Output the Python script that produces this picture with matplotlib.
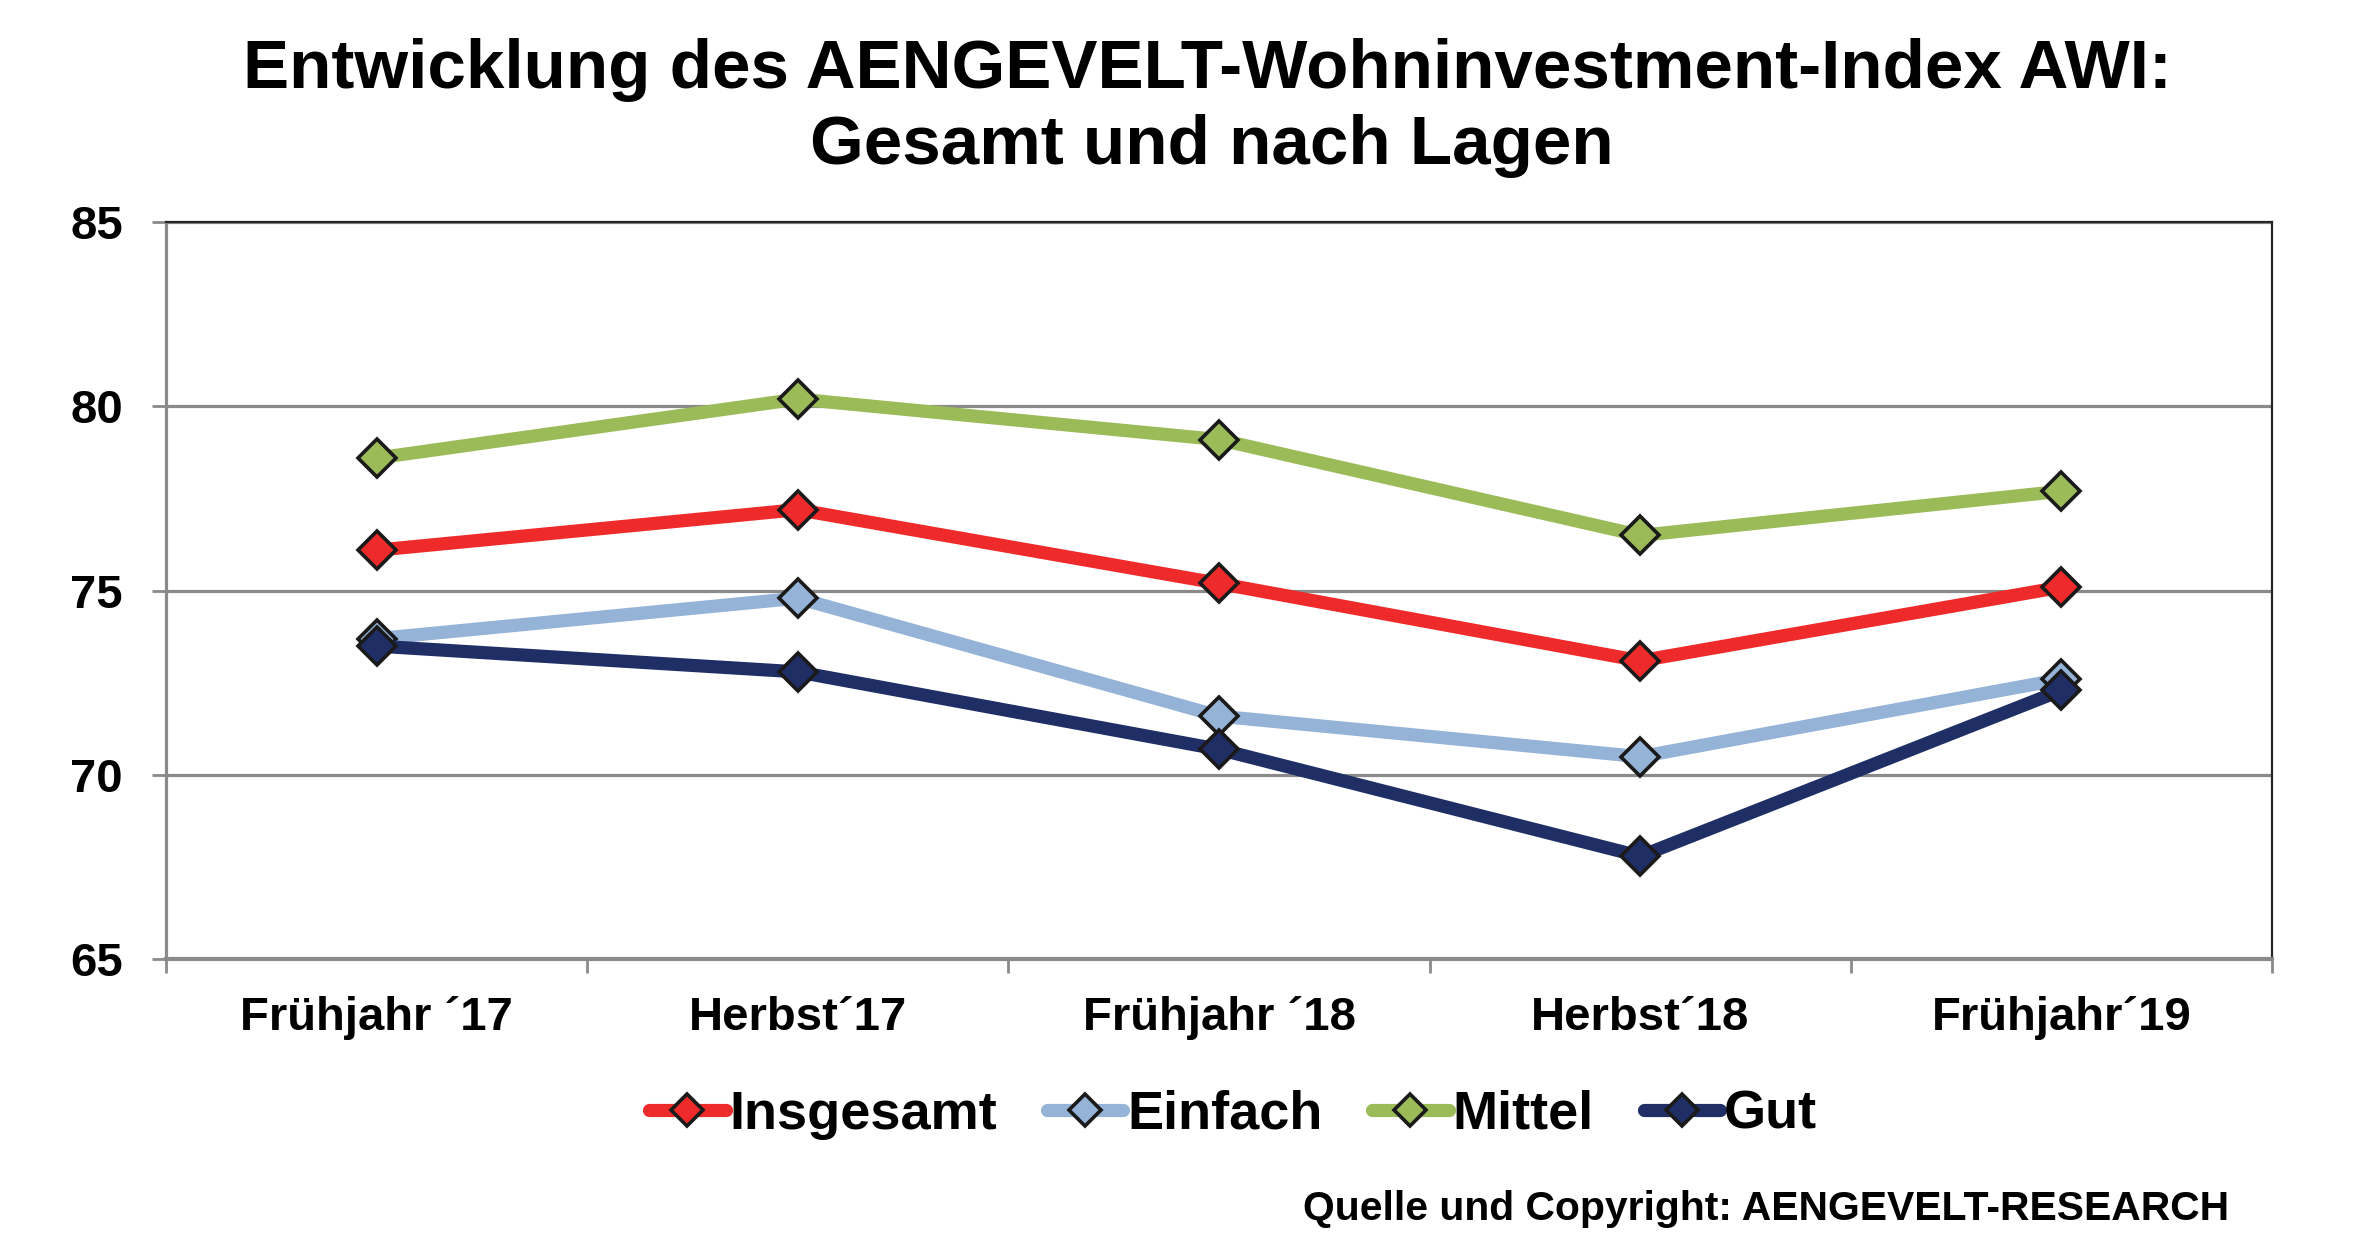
import matplotlib
matplotlib.use("Agg")
import matplotlib.pyplot as plt
from matplotlib.ticker import FixedLocator

plt.rcParams['font.family'] = ['Liberation Sans', 'DejaVu Sans']
plt.rcParams['font.weight'] = 'bold'

# Daten
perioden = ['Frühjahr ´17', 'Herbst´17', 'Frühjahr ´18', 'Herbst´18', 'Frühjahr´19']
insgesamt = [76.1, 77.2, 75.2, 73.1, 75.1]
einfach = [73.7, 74.8, 71.6, 70.5, 72.6]
mittel = [78.6, 80.2, 79.1, 76.5, 77.7]
gut = [73.5, 72.8, 70.7, 67.8, 72.3]
y_ticks = [65, 70, 75, 80, 85]

reihen = [
    ('Insgesamt', insgesamt, '#ee2a2a'),
    ('Einfach', einfach, '#95b3d7'),
    ('Mittel', mittel, '#9bbb59'),
    ('Gut', gut, '#1f2f66'),
]

fig = plt.figure(figsize=(23.62, 12.44), dpi=100)
ax = fig.add_axes([0.0703, 0.2287, 0.8916, 0.5928])

x = list(range(len(perioden)))
for name, werte, farbe in reihen:
    ax.plot(x, werte, color=farbe, lw=9.5, marker='D', ms=19.5,
            mfc=farbe, mec='#1a1a1a', mew=2.6, label=name,
            solid_joinstyle='round', solid_capstyle='round')

ax.set_xlim(-0.5, len(perioden) - 0.5)
ax.set_ylim(65, 85)
ax.set_yticks(y_ticks)
ax.set_yticklabels([str(v) for v in y_ticks], fontsize=34, fontweight='bold')
ax.set_xticks(x)
ax.set_xticklabels(perioden, fontsize=34, fontweight='bold')
ax.xaxis.set_minor_locator(FixedLocator([i - 0.5 for i in range(len(perioden) + 1)]))

ax.tick_params(axis='x', which='major', length=0, pad=26)
ax.tick_params(axis='x', which='minor', length=10, width=2, color='#8a8a8a')
ax.tick_params(axis='y', which='major', length=10, width=2, color='#8a8a8a', pad=21)

# Gitternetz
ax.grid(axis='y', color='#8a8a8a', lw=2.3)
ax.set_axisbelow(True)

ax.spines['left'].set_color('#8a8a8a')
ax.spines['left'].set_linewidth(2.3)
ax.spines['bottom'].set_color('#8a8a8a')
ax.spines['bottom'].set_linewidth(3)
ax.spines['top'].set_color('#262626')
ax.spines['top'].set_linewidth(1.6)
ax.spines['right'].set_color('#262626')
ax.spines['right'].set_linewidth(1.6)

# Titel
fig.text(0.511, 0.9293, 'Entwicklung des AENGEVELT-Wohninvestment-Index AWI:',
         ha='center', va='baseline', fontsize=49.8, fontweight='bold')
fig.text(0.513, 0.8682, 'Gesamt und nach Lagen',
         ha='center', va='baseline', fontsize=49.8, fontweight='bold')

leg = fig.legend(loc='center', bbox_to_anchor=(0.522, 0.104), ncol=4,
                 frameon=False, fontsize=39, handlelength=1.41,
                 handletextpad=0.07, columnspacing=0.92, markerscale=0.86)
for t in leg.get_texts():
    t.set_fontweight('bold')

fig.text(0.9437, 0.0193, 'Quelle und Copyright: AENGEVELT-RESEARCH',
         ha='right', va='baseline', fontsize=29.4, fontweight='bold')

fig.savefig('out.png', dpi=100)
